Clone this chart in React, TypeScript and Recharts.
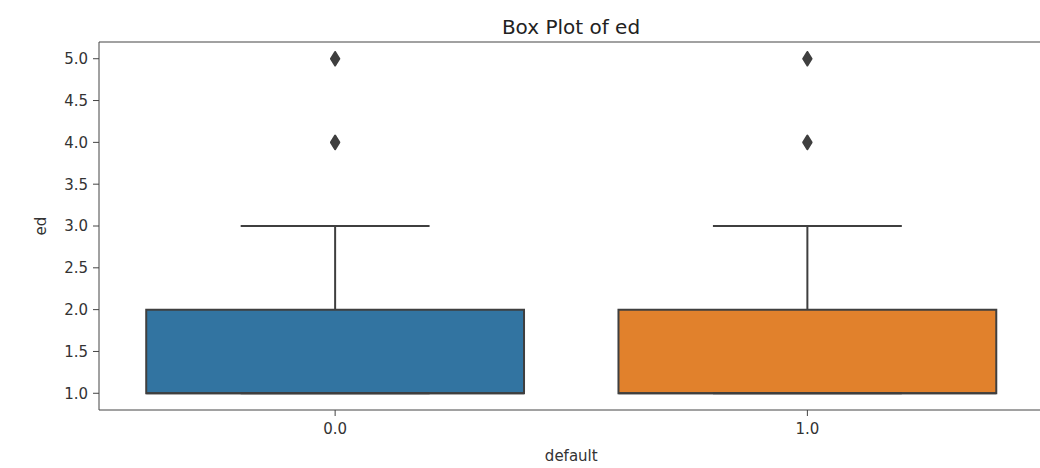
import React from "react";
import {
  ComposedChart,
  XAxis,
  YAxis,
  Scatter,
  ReferenceArea,
  ReferenceLine,
  Label,
} from "recharts";

// ---- data ----
const categories = [0, 1]; // "default" values 0.0 and 1.0
const q1 = [1.0, 1.0];
const q3 = [2.0, 2.0];
const medians = [1.0, 1.0];
const whiskerLow = [1.0, 1.0];
const whiskerHigh = [3.0, 3.0];
const outliers0 = [4.0, 5.0];
const outliers1 = [4.0, 5.0];
const yTicks = [1.0, 1.5, 2.0, 2.5, 3.0, 3.5, 4.0, 4.5, 5.0];
const boxColors = ["#3274a1", "#e1812c"];

const EDGE = "#3f3f3f";
const FONT = "'DejaVu Sans', sans-serif";
const BOX_HALF = 0.4;
const CAP_HALF = 0.2;

const outlierData = [
  ...outliers0.map((y) => ({ x: categories[0], y })),
  ...outliers1.map((y) => ({ x: categories[1], y })),
];

const Diamond = (props: any) => {
  const { cx, cy } = props;
  if (cx == null || cy == null) return null;
  const w = 4.2;
  const h = 6.8;
  return (
    <path
      d={`M${cx},${cy - h} L${cx + w},${cy} L${cx},${cy + h} L${cx - w},${cy} Z`}
      fill={EDGE}
      stroke={EDGE}
      strokeWidth={2}
      strokeLinejoin="round"
    />
  );
};

export default function App() {
  return (
    <div
      style={{
        position: "absolute",
        left: 0,
        top: 0,
        width: 1040,
        height: 468,
        overflow: "hidden",
        background: "#ffffff",
      }}
    >
      <div
        style={{
          position: "absolute",
          top: 15,
          left: 0,
          width: 1142,
          textAlign: "center",
          fontFamily: FONT,
          fontSize: 20,
          color: "#222",
        }}
      >
        Box Plot of ed
      </div>
      <ComposedChart
        width={1060}
        height={468}
        margin={{ top: 42, right: 16.5, bottom: 0, left: 0 }}
        style={{ position: "absolute", left: 0, top: 0 }}
      >
        <XAxis
          type="number"
          dataKey="x"
          domain={[-0.5, 1.5]}
          ticks={categories}
          tickFormatter={(v: number) => v.toFixed(1)}
          allowDataOverflow
          height={58}
          stroke="#444"
          tickSize={6}
          tick={{ fill: "#333", fontFamily: FONT, fontSize: 15 }}
          tickMargin={7}
        >
          <Label
            value="default"
            position="insideBottom"
            offset={7}
            style={{ fill: "#333", fontFamily: FONT, fontSize: 15 }}
          />
        </XAxis>
        <YAxis
          type="number"
          dataKey="y"
          domain={[0.8, 5.2]}
          ticks={yTicks}
          tickFormatter={(v: number) => v.toFixed(1)}
          allowDataOverflow
          width={99}
          stroke="#444"
          tickSize={6}
          tick={{ fill: "#333", fontFamily: FONT, fontSize: 15 }}
          tickMargin={5}
        >
          <Label
            value="ed"
            angle={-90}
            position="insideLeft"
            offset={41}
            style={{ fill: "#333", fontFamily: FONT, fontSize: 15, textAnchor: "middle" }}
          />
        </YAxis>
        {/* top spine */}
        <ReferenceLine y={5.2} stroke="#444" strokeWidth={1.2} />
        {categories.map((c, i) => (
          <ReferenceLine
            key={`wl-${i}`}
            segment={[
              { x: c, y: q3[i] },
              { x: c, y: whiskerHigh[i] },
            ]}
            stroke={EDGE}
            strokeWidth={2}
          />
        ))}
        {categories.map((c, i) => (
          <ReferenceLine
            key={`cap-${i}`}
            segment={[
              { x: c - CAP_HALF, y: whiskerHigh[i] },
              { x: c + CAP_HALF, y: whiskerHigh[i] },
            ]}
            stroke={EDGE}
            strokeWidth={2}
          />
        ))}
        {categories.map((c, i) => (
          <ReferenceLine
            key={`capl-${i}`}
            segment={[
              { x: c - CAP_HALF, y: whiskerLow[i] },
              { x: c + CAP_HALF, y: whiskerLow[i] },
            ]}
            stroke={EDGE}
            strokeWidth={2}
          />
        ))}
        {categories.map((c, i) => (
          <ReferenceArea
            key={`box-${i}`}
            x1={c - BOX_HALF}
            x2={c + BOX_HALF}
            y1={q1[i]}
            y2={q3[i]}
            fill={boxColors[i]}
            fillOpacity={1}
            stroke={EDGE}
            strokeWidth={2}
          />
        ))}
        {categories.map((c, i) => (
          <ReferenceLine
            key={`med-${i}`}
            segment={[
              { x: c - BOX_HALF, y: medians[i] },
              { x: c + BOX_HALF, y: medians[i] },
            ]}
            stroke={EDGE}
            strokeWidth={2}
          />
        ))}
        <Scatter
          data={outlierData}
          dataKey="y"
          shape={<Diamond />}
          isAnimationActive={false}
        />
      </ComposedChart>
    </div>
  );
}
